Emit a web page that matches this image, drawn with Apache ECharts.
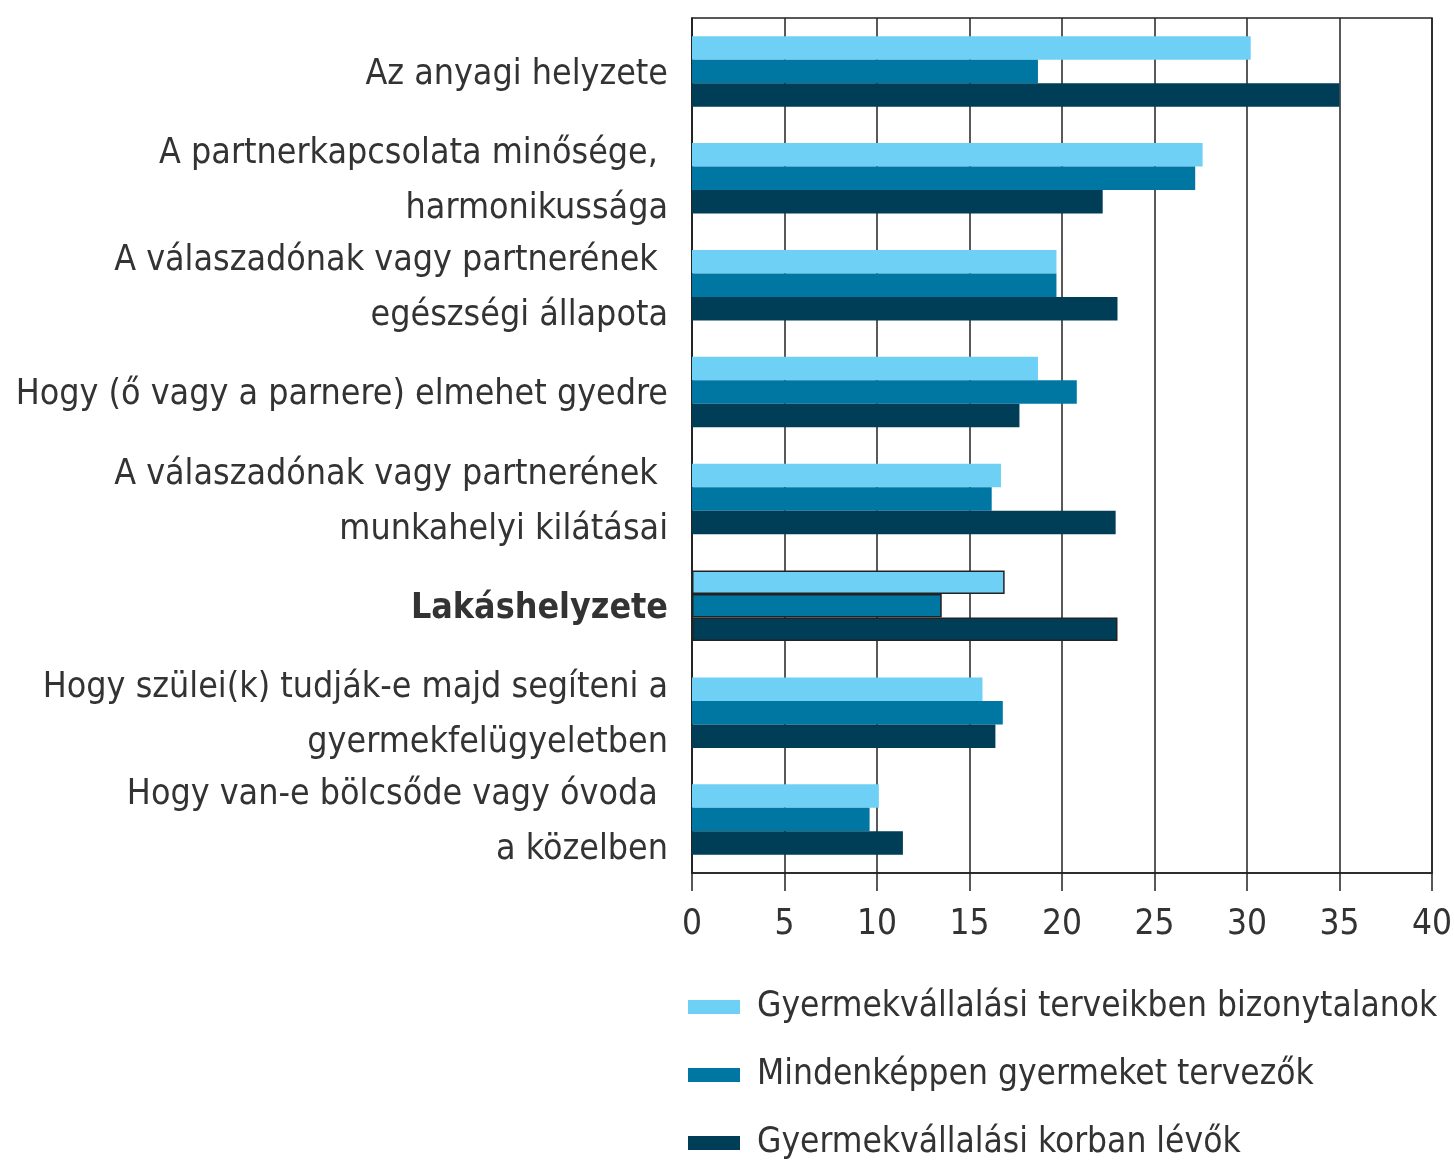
<!DOCTYPE html>
<html>
<head>
<meta charset="utf-8">
<script src="https://cdn.jsdelivr.net/npm/echarts@6/dist/echarts.min.js"></script>
<style>
  html, body { margin: 0; padding: 0; background: #fff; }
  #chart { width: 1454px; height: 1165px; }
</style>
</head>
<body>
<div id="chart"></div>
<script>
// categories (top to bottom)
const categories = [
    'Az anyagi helyzete',
    'A partnerkapcsolata minősége, \nharmonikussága',
    'A válaszadónak vagy partnerének \negészségi állapota',
    'Hogy (ő vagy a parnere) elmehet gyedre',
    'A válaszadónak vagy partnerének \nmunkahelyi kilátásai',
    'Lakáshelyzete',
    'Hogy szülei(k) tudják-e majd segíteni a\ngyermekfelügyeletben',
    'Hogy van-e bölcsőde vagy óvoda \na közelben'
];
const seriesNames = [
    'Gyermekvállalási terveikben bizonytalanok',
    'Mindenképpen gyermeket tervezők',
    'Gyermekvállalási korban lévők'
];
const uncertain = [30.2, 27.6, 19.7, 18.7, 16.7, 16.9, 15.7, 10.1];
const planners = [18.7, 27.2, 19.7, 20.8, 16.2, 13.5, 16.8, 9.6];
const ofAge = [35.0, 22.2, 23.0, 17.7, 22.9, 23.0, 16.4, 11.4];
const xTicks = [0, 5, 10, 15, 20, 25, 30, 35, 40];

const colors = ['#6ed0f5', '#0076a3', '#003e57'];
const font = '"DejaVu Sans Condensed", sans-serif';
const highlighted = 'Lakáshelyzete';

// the highlighted category gets a dark outline
function withOutline(values) {
    return values.map((v, i) => categories[i] === highlighted
        ? { value: v, itemStyle: { borderColor: '#222', borderWidth: 1.5 } }
        : v);
}

const chart = echarts.init(document.getElementById('chart'));
chart.setOption({
    animation: false,
    color: colors,
    textStyle: { fontFamily: font },
    grid: {
        left: 692, right: 22, top: 18, bottom: 292,
        outerBoundsMode: 'none',
        containLabel: false,
        show: true, borderColor: '#222', borderWidth: 1.5
    },
    legend: {
        orient: 'vertical',
        left: 688,
        top: 988,
        height: 200,
        padding: 0,
        icon: 'rect',
        itemWidth: 52,
        itemHeight: 14,
        itemGap: 30,
        data: seriesNames,
        textStyle: {
            fontFamily: font, fontSize: 35, color: '#333',
            lineHeight: 38, padding: [0, 0, 0, 12]
        }
    },
    xAxis: {
        type: 'value',
        min: xTicks[0],
        max: xTicks[xTicks.length - 1],
        interval: 5,
        axisLine: { show: true, lineStyle: { color: '#222', width: 1.5 } },
        axisTick: { show: true, length: 18, lineStyle: { color: '#222', width: 1.5 } },
        splitLine: { show: true, lineStyle: { color: '#222', width: 1.5 } },
        axisLabel: { fontFamily: font, fontSize: 35, color: '#333', margin: 34 }
    },
    yAxis: {
        type: 'category',
        inverse: true,
        data: categories,
        axisLine: { show: true, lineStyle: { color: '#222', width: 1.5 } },
        axisTick: { show: false },
        axisLabel: {
            interval: 0,
            hideOverlap: false,
            margin: 24,
            fontFamily: font,
            fontSize: 35.5,
            lineHeight: 55,
            padding: [6, 0, 0, 0],
            color: '#333',
            formatter: v => v === highlighted ? '{b|' + v + '}' : v,
            rich: {
                b: { fontFamily: font, fontSize: 35.5, fontWeight: 'bold', color: '#333' }
            }
        }
    },
    series: [uncertain, planners, ofAge].map((vals, k) => ({
        name: seriesNames[k],
        type: 'bar',
        barWidth: 23.5,
        barGap: '0%',
        data: withOutline(vals)
    }))
});
</script>
</body>
</html>
